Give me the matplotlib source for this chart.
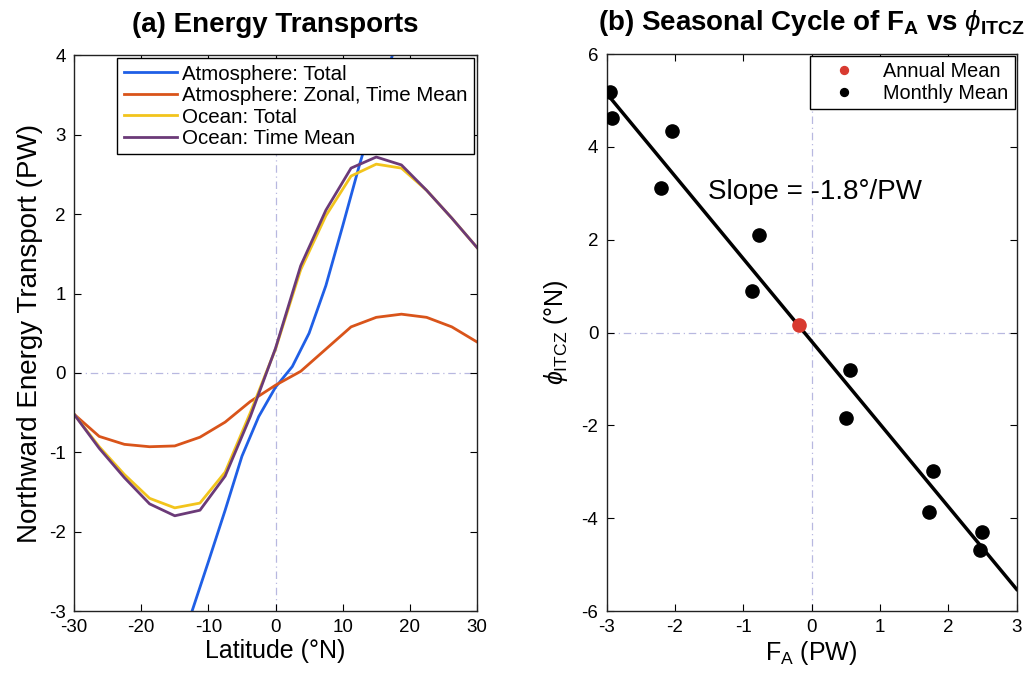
import numpy as np
import matplotlib
matplotlib.use("Agg")
import matplotlib.pyplot as plt

plt.rcParams['font.family'] = ['Liberation Sans', 'DejaVu Sans']
plt.rcParams['mathtext.fontset'] = 'custom'
plt.rcParams['mathtext.rm'] = 'Liberation Sans'
plt.rcParams['mathtext.it'] = 'Liberation Sans:italic'
plt.rcParams['mathtext.bf'] = 'Liberation Sans:bold'
plt.rcParams['mathtext.sf'] = 'Liberation Sans'
plt.rcParams['axes.unicode_minus'] = False

# ---- panel (a) data: northward energy transport (PW) vs latitude ----
lat = [-30, -26.25, -22.5, -18.75, -15, -11.25, -7.5, -3.75, 0,
       3.75, 7.5, 11.25, 15, 18.75, 22.5, 26.25, 30]
atm_zonal_mean = [-0.52, -0.80, -0.90, -0.93, -0.92, -0.81, -0.62, -0.36, -0.155,
                  0.02, 0.30, 0.58, 0.70, 0.74, 0.70, 0.58, 0.39]
ocean_total = [-0.52, -0.93, -1.28, -1.58, -1.70, -1.64, -1.25, -0.50, 0.30,
               1.30, 1.98, 2.48, 2.63, 2.58, 2.30, 1.95, 1.58]
ocean_time_mean = [-0.52, -0.95, -1.32, -1.65, -1.80, -1.73, -1.30, -0.55, 0.31,
                   1.35, 2.05, 2.58, 2.72, 2.62, 2.30, 1.95, 1.58]

lat_atm = [-15, -12.5, -10, -7.5, -5, -2.5, 0, 2.5, 5, 7.5, 10, 12.5, 15, 17.5, 20]
atm_total = [-3.70, -3.02, -2.38, -1.73, -1.05, -0.55, -0.18, 0.08, 0.50,
             1.10, 1.85, 2.62, 3.33, 4.03, 4.70]

# ---- panel (b) data: seasonal cycle of F_A vs ITCZ latitude ----
fa_monthly = [-2.95, -2.92, -2.05, -2.21, -0.77, -0.88, 0.56, 0.51, 1.77, 1.72, 2.49, 2.46]
itcz_monthly = [5.18, 4.62, 4.34, 3.12, 2.10, 0.90, -0.81, -1.85, -2.99, -3.87, -4.30, -4.68]
fa_annual = [-0.19]
itcz_annual = [0.16]
fit_x = [-3, 3]

c_blue = '#1f5fe6'
c_orange = '#d9541a'
c_yellow = '#f2c41c'
c_purple = '#6b3a78'
c_red = '#d83a30'
c_zero = '#b8b8e0'

fig = plt.figure(figsize=(10.34, 6.79), dpi=100)
ax1 = fig.add_axes([0.0716, 0.1001, 0.3897, 0.8183])
ax2 = fig.add_axes([0.5867, 0.1001, 0.3965, 0.8203])

zero_style = dict(color=c_zero, lw=0.9, linestyle=(0, (6, 3, 1, 3)), zorder=0)

# ---- (a) ----
ax1.axhline(0, **zero_style)
ax1.axvline(0, **zero_style)
ax1.plot(lat_atm, atm_total, color=c_blue, lw=2, label='Atmosphere: Total')
ax1.plot(lat, atm_zonal_mean, color=c_orange, lw=2, label='Atmosphere: Zonal, Time Mean')
ax1.plot(lat, ocean_total, color=c_yellow, lw=2, label='Ocean: Total')
ax1.plot(lat, ocean_time_mean, color=c_purple, lw=2, label='Ocean: Time Mean')
ax1.set_xlim(-30, 30)
ax1.set_ylim(-3, 4)
ax1.set_xticks([-30, -20, -10, 0, 10, 20, 30])
ax1.set_yticks(range(-3, 5))
ax1.set_xlabel('Latitude (°N)', fontsize=18, labelpad=2)
ax1.set_ylabel('Northward Energy Transport (PW)', fontsize=20, labelpad=4)
ax1.set_title('(a) Energy Transports', fontsize=20, fontweight='bold', pad=17)
leg1 = ax1.legend(loc='upper right', fontsize=14.8, frameon=True, fancybox=False,
                  framealpha=1, edgecolor='black', borderaxespad=0.15,
                  handlelength=2.6, handletextpad=0.25, labelspacing=0.12,
                  borderpad=0.3)
leg1.get_frame().set_linewidth(1.0)

# ---- (b) ----
ax2.axhline(0, **zero_style)
ax2.axvline(0, **zero_style)
slope, intercept = np.polyfit(fa_monthly, itcz_monthly, 1)
fit_y = [slope * x + intercept for x in fit_x]
ax2.plot(fit_x, fit_y, color='black', lw=2.5, zorder=2)
ax2.plot(fa_annual, itcz_annual, 'o', color=c_red, ms=9.5, zorder=3, label='Annual Mean')
ax2.plot(fa_monthly, itcz_monthly, 'o', color='black', ms=9.5, zorder=3, label='Monthly Mean')
ax2.text(-1.52, 3.02, 'Slope = %.1f°/PW' % slope, fontsize=20, ha='left', va='center')
ax2.set_xlim(-3, 3)
ax2.set_ylim(-6, 6)
ax2.set_xticks(range(-3, 4))
ax2.set_yticks(range(-6, 7, 2))
ax2.set_xlabel(r'$\mathrm{F_A}$ (PW)', fontsize=18, labelpad=2)
ax2.set_ylabel(r'$\phi_{\mathrm{ITCZ}}$ (°N)', fontsize=18, labelpad=8)
ax2.set_title(r'(b) Seasonal Cycle of $\mathbf{F_A}$ vs $\phi_{\mathbf{ITCZ}}$',
              fontsize=20, fontweight='bold', pad=17)
leg2 = ax2.legend(loc='upper right', fontsize=14.3, frameon=True, fancybox=False,
                  framealpha=1, edgecolor='black', borderaxespad=0.1,
                  handlelength=2.8, handletextpad=0.6, labelspacing=0.15,
                  borderpad=0.3, markerscale=0.6, numpoints=1)
leg2.get_frame().set_linewidth(1.0)

for ax in (ax1, ax2):
    ax.tick_params(direction='in', top=True, right=True, length=5, width=0.8,
                   labelsize=13.5, pad=6)
    for sp in ax.spines.values():
        sp.set_linewidth(1.0)
        sp.set_color('#222222')

fig.savefig('out.png', dpi=100)
